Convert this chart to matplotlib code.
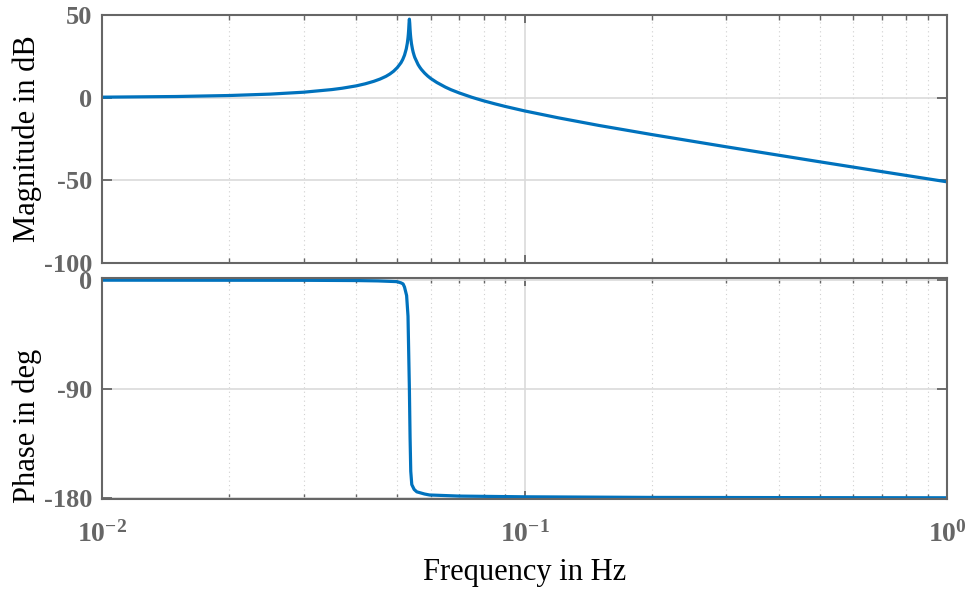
import matplotlib
matplotlib.use("Agg")
import matplotlib.pyplot as plt
from matplotlib.ticker import FixedLocator, NullFormatter, LogLocator

# ---- data ----
freq_mag = [0.01, 0.015, 0.02, 0.025, 0.03, 0.035, 0.037, 0.04, 0.042, 0.044, 0.0455,
            0.046, 0.047, 0.048, 0.049, 0.05, 0.051, 0.0515, 0.052, 0.0525, 0.0528,
            0.053, 0.0531, 0.0532, 0.0533, 0.0534, 0.0535, 0.0536, 0.0537, 0.0538,
            0.054, 0.0543, 0.0545, 0.0548, 0.055, 0.056, 0.0565, 0.057, 0.058, 0.059,
            0.06, 0.062, 0.065, 0.067, 0.07, 0.075, 0.08, 0.085, 0.09, 0.1, 0.12,
            0.15, 0.2, 0.3, 0.5, 0.7, 1.0]
mag_db = [0.3, 0.7, 1.3, 2.15, 3.3, 4.9, 5.7, 7.15, 8.4, 9.9, 11.25,
          11.8, 12.9, 14.3, 16.0, 18.2, 21.1, 23.1, 25.7, 29.5, 32.9,
          36.2, 38.4, 41.3, 45.0, 47.5, 45.0, 41.3, 38.4, 36.2,
          32.8, 29.4, 27.6, 25.5, 24.3, 20.0, 18.45, 17.1, 14.9, 13.1,
          11.6, 9.2, 6.35, 4.8, 2.9, 0.25, -1.9, -3.7, -5.3, -8.0, -12.15,
          -16.8, -22.3, -29.7, -38.8, -44.7, -50.9]

freq_ph = [0.01, 0.03, 0.04, 0.045, 0.0499, 0.051, 0.0516, 0.052, 0.0526, 0.053,
           0.0532, 0.0534, 0.0536, 0.0538, 0.0541, 0.0548, 0.0556, 0.058, 0.0596,
           0.07, 0.1, 0.2, 0.5, 1.0]
phase_deg = [-0.3, -0.4, -0.6, -0.9, -1.5, -2.5, -3.4, -6, -13, -30,
             -60, -90, -130, -158, -169, -173, -175, -176.8, -177.6,
             -178.5, -179.1, -179.6, -179.8, -179.9]

mag_ticks = [-100, -50, 0, 50]
phase_ticks = [-180, -90, 0]
x_ticks = [0.01, 0.1, 1.0]
x_ticklabels = [r"$\mathbf{10^{-2}}$", r"$\mathbf{10^{-1}}$", r"$\mathbf{10^{0}}$"]

# ---- styling ----
plt.rcParams["font.family"] = ["Liberation Serif", "DejaVu Serif"]
plt.rcParams["mathtext.fontset"] = "custom"
plt.rcParams["mathtext.rm"] = "Liberation Serif"
plt.rcParams["mathtext.bf"] = "Liberation Serif:bold"
plt.rcParams["axes.unicode_minus"] = False

LINE = "#0072BD"
SPINE = "#666666"
TICKC = "#666666"
GRID = "#dadada"

fig = plt.figure(figsize=(9.66, 5.90), dpi=100)
ax1 = fig.add_axes([102/966, 1-263/590, 845/966, 248/590])
ax2 = fig.add_axes([102/966, 1-498.5/590, 845/966, 220.5/590])

for ax in (ax1, ax2):
    ax.set_xscale("log")
    ax.set_xlim(0.01, 1.0)
    ax.xaxis.set_major_locator(FixedLocator(x_ticks))
    ax.xaxis.set_minor_locator(LogLocator(base=10, subs=range(2, 10)))
    ax.xaxis.set_minor_formatter(NullFormatter())
    for s in ax.spines.values():
        s.set_color(SPINE)
        s.set_linewidth(1.5)
    ax.tick_params(axis="both", which="both", direction="in", top=True, right=True,
                   colors=SPINE, labelcolor=TICKC)
    ax.tick_params(axis="x", which="major", length=6, width=1.3)
    ax.tick_params(axis="x", which="minor", length=3.5, width=1.0)
    ax.tick_params(axis="y", which="major", length=7, width=1.3, pad=7)
    ax.grid(True, which="major", color=GRID, linewidth=1.2, linestyle="-")
    ax.grid(True, which="minor", axis="x", color="#d0d0d0", linewidth=0.8,
            linestyle=(0, (1, 3)))
    ax.set_axisbelow(True)

ax1.plot(freq_mag, mag_db, color=LINE, linewidth=2.3, solid_joinstyle="round")
ax1.set_ylim(-100, 50)
ax1.set_yticks(mag_ticks)
ax1.set_yticklabels([str(v) for v in mag_ticks], fontsize=19, fontweight="bold")
ax1.xaxis.set_major_formatter(NullFormatter())
ax1.set_ylabel("Magnitude in dB", fontsize=22, color="black")
ax1.yaxis.set_label_coords(-0.071, 0.5)

ax2.plot(freq_ph, phase_deg, color=LINE, linewidth=2.3, solid_joinstyle="round")
ax2.set_ylim(-180.5, 1.5)
ax2.set_yticks(phase_ticks)
ax2.set_yticklabels([str(v) for v in phase_ticks], fontsize=19, fontweight="bold")
ax2.set_xticks(x_ticks)
ax2.set_xticklabels(x_ticklabels, fontsize=20)
ax2.tick_params(axis="x", which="major", pad=16)
ax2.set_ylabel("Phase in deg", fontsize=22, color="black")
ax2.yaxis.set_label_coords(-0.071, 0.33)
ax2.set_xlabel("Frequency in Hz", fontsize=22, color="black", labelpad=8)

fig.savefig("out.png", dpi=100)
